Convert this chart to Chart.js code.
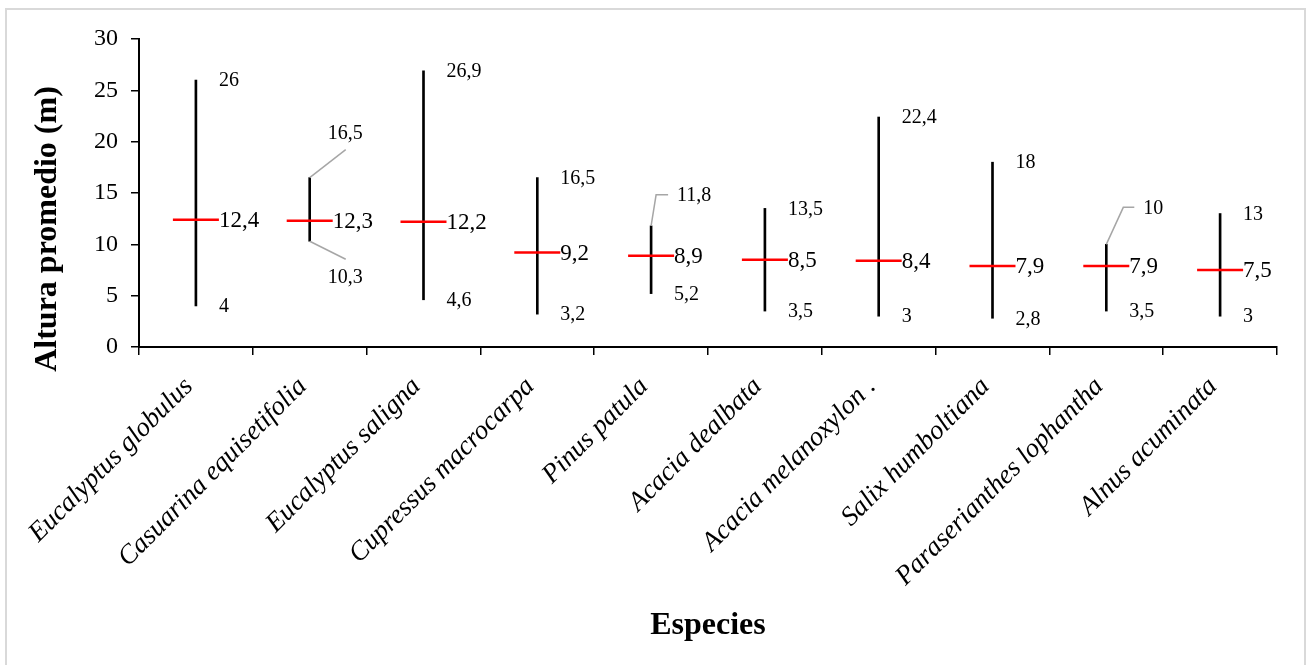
<!DOCTYPE html>
<html lang="es">
<head>
<meta charset="utf-8">
<title>Altura promedio por especie</title>
<script src="https://cdn.jsdelivr.net/npm/chart.js@4.4.1/dist/chart.umd.min.js"></script>
<style>
  html, body { margin: 0; padding: 0; background: #fff; }
  #caja { width: 1306px; height: 665px; position: relative; }
</style>
</head>
<body>
<div id="caja"><canvas id="grafico" width="1306" height="665"></canvas></div>
<script>
// ---- datos ----
const especies = [
  "Eucalyptus globulus", "Casuarina equisetifolia", "Eucalyptus saligna",
  "Cupressus macrocarpa", "Pinus patula", "Acacia dealbata",
  "Acacia melanoxylon .", "Salix humboltiana", "Paraserianthes lophantha",
  "Alnus acuminata"
];
const alturaMax = [26, 16.5, 26.9, 16.5, 11.8, 13.5, 22.4, 18, 10, 13];
const alturaMedia = [12.4, 12.3, 12.2, 9.2, 8.9, 8.5, 8.4, 7.9, 7.9, 7.5];
const alturaMin = [4, 10.3, 4.6, 3.2, 5.2, 3.5, 3, 2.8, 3.5, 3];
const ticksY = [0, 5, 10, 15, 20, 25, 30];

const FUENTE = "'Liberation Serif', 'Times New Roman', serif";

// etiquetas desplazadas con linea guia (resto: a la derecha de la barra)
const guiaMax = {
  1: { dx: 18, dy: -44, linea: [[0, 0], [36, -28]] },
  4: { dx: 26, dy: -30, linea: [[0, 0], [5, -31], [17, -31]] },
  8: { dx: 37, dy: -36, linea: [[0, 0], [17, -37], [28, -37]] }
};
const guiaMin = {
  1: { dx: 18, dy: 36, linea: [[0, 0], [36, 18]] }
};

const fmt = v => String(v).replace(".", ",");

const etiquetasPlugin = {
  id: "etiquetas",
  beforeDraw(chart) {
    const ctx = chart.ctx;
    ctx.save();
    ctx.fillStyle = "#fff";
    ctx.fillRect(0, 0, chart.width, chart.height);
    ctx.strokeStyle = "#d9d9d9";
    ctx.lineWidth = 2;
    ctx.strokeRect(6, 9, 1299, 670);
    ctx.restore();
  },
  afterDatasetsDraw(chart) {
    const ctx = chart.ctx;
    const xs = chart.scales.x;
    const ys = chart.scales.y;
    ctx.save();
    ctx.textBaseline = "middle";
    ctx.textAlign = "left";
    ctx.fillStyle = "#000";

    especies.forEach((_, i) => {
      const x = xs.getPixelForValue(i);
      const yMax = ys.getPixelForValue(alturaMax[i]);
      const yMin = ys.getPixelForValue(alturaMin[i]);
      const yMed = ys.getPixelForValue(alturaMedia[i]);

      ctx.font = "20px " + FUENTE;
      [[alturaMax[i], yMax, guiaMax[i]], [alturaMin[i], yMin, guiaMin[i]]].forEach(([v, y, g]) => {
        if (g) {
          ctx.strokeStyle = "#a6a6a6";
          ctx.lineWidth = 1.5;
          ctx.beginPath();
          g.linea.forEach(([px, py], k) => {
            if (k === 0) ctx.moveTo(x + px, y + py);
            else ctx.lineTo(x + px, y + py);
          });
          ctx.stroke();
          ctx.fillText(fmt(v), x + g.dx, y + g.dy);
        } else {
          ctx.fillText(fmt(v), x + 23, y + 1);
        }
      });

      ctx.font = "23px " + FUENTE;
      ctx.fillText(fmt(alturaMedia[i]), x + 23, yMed + 1);
    });

    // titulos de ejes
    ctx.font = "bold 32px " + FUENTE;
    ctx.textAlign = "center";
    ctx.fillText("Especies", 708, 626);
    ctx.translate(48, 229);
    ctx.rotate(-Math.PI / 2);
    ctx.fillText("Altura promedio (m)", 0, 0);
    ctx.restore();
  }
};

new Chart(document.getElementById("grafico"), {
  type: "bar",
  data: {
    labels: especies,
    datasets: [
      {
        type: "line",
        label: "Media",
        data: alturaMedia,
        showLine: false,
        pointStyle: "line",
        pointRadius: 23,
        pointHoverRadius: 23,
        pointBorderWidth: 2.5,
        pointBorderColor: "#ff0000",
        borderColor: "#ff0000",
        order: 0
      },
      {
        label: "Rango",
        data: alturaMin.map((m, i) => [m, alturaMax[i]]),
        backgroundColor: "#000",
        borderWidth: 0,
        barThickness: 2,
        order: 1
      }
    ]
  },
  options: {
    responsive: false,
    animation: false,
    events: [],
    layout: { padding: { top: 39, right: 29, left: 0, bottom: 0 } },
    plugins: {
      legend: { display: false },
      tooltip: { enabled: false }
    },
    scales: {
      x: {
        grid: { display: true, drawOnChartArea: false, drawTicks: true, tickLength: 8, color: "#000", lineWidth: 1.5, offset: true },
        border: { display: true, color: "#000", width: 2 },
        ticks: {
          color: "#000",
          font: { family: FUENTE, size: 27, style: "italic" },
          minRotation: 45,
          maxRotation: 45,
          autoSkip: false,
          padding: 16,
          labelOffset: -7
        },
        afterFit: s => { s.height = 318; }
      },
      y: {
        min: 0,
        max: 30,
        afterBuildTicks: s => { s.ticks = ticksY.map(v => ({ value: v })); },
        grid: { drawOnChartArea: false, drawTicks: true, tickLength: 8, color: "#000", lineWidth: 1.5 },
        border: { display: true, color: "#000", width: 2 },
        ticks: {
          color: "#000",
          font: { family: FUENTE, size: 24 },
          padding: 13
        },
        afterFit: s => { s.width = 139; }
      }
    }
  },
  plugins: [etiquetasPlugin]
});
</script>
</body>
</html>
